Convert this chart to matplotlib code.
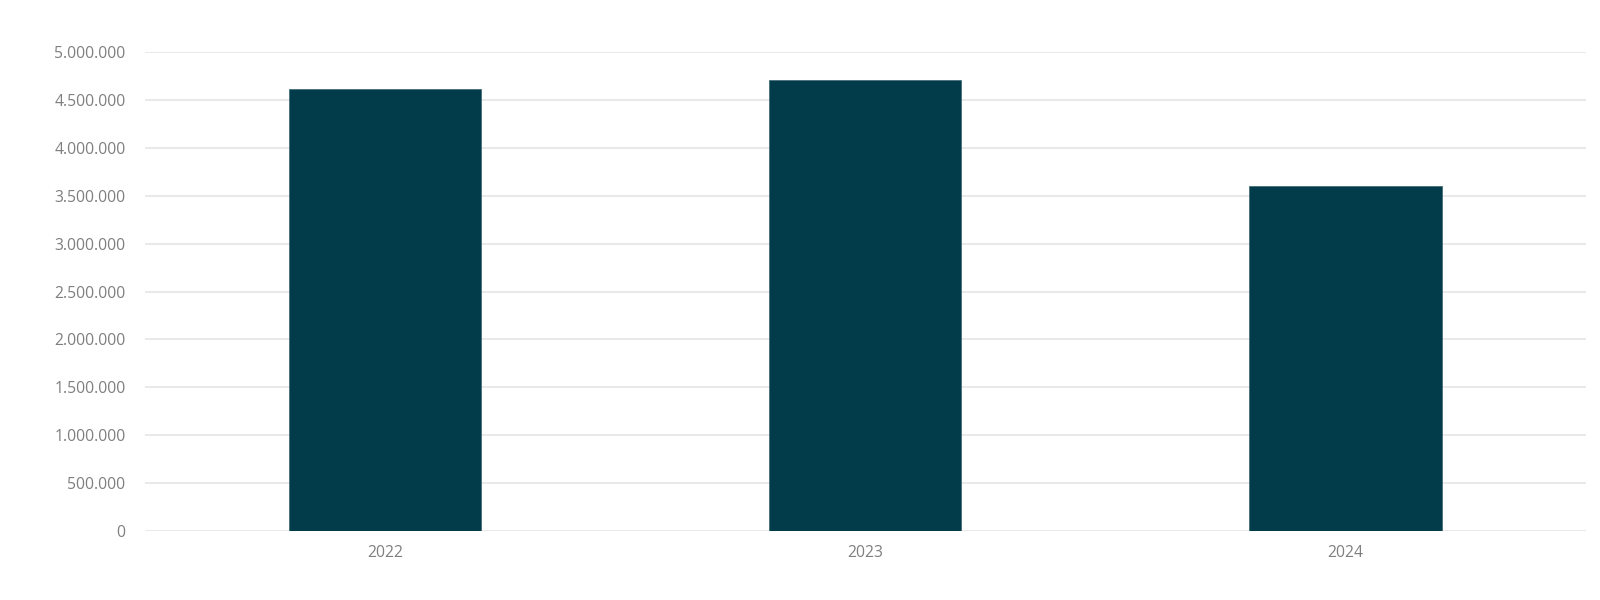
import matplotlib.pyplot as plt
from matplotlib.ticker import FuncFormatter

years = ['2022', '2023', '2024']
values = [4613000, 4707000, 3607000]
y_ticks = list(range(0, 5000001, 500000))

bar_color = '#023c4a'
grid_color = '#e3e3e3'
text_color = '#7f7f7f'

plt.rcParams['font.family'] = ['Open Sans', 'DejaVu Sans']

fig = plt.figure(figsize=(16, 6), dpi=100)
ax = fig.add_axes([0.0906, 0.115, 0.9004, 0.798])

x = range(len(years))
ax.bar(x, values, width=0.4, color=bar_color, edgecolor='#3a6470', linewidth=0.5, zorder=3)

ax.set_xlim(-0.5, len(years) - 0.5)
ax.set_ylim(0, 5000000)
ax.set_xticks(list(x))
ax.set_xticklabels(years)
ax.set_yticks(y_ticks)
ax.yaxis.set_major_formatter(FuncFormatter(lambda v, p: f'{int(v):,}'.replace(',', '.')))

ax.grid(axis='y', color=grid_color, linewidth=1.1, zorder=0)
for s in ax.spines.values():
    s.set_visible(False)
ax.tick_params(axis='both', length=0, labelsize=11.3, labelcolor=text_color)
ax.tick_params(axis='y', pad=14)
ax.tick_params(axis='x', pad=10)

plt.savefig('out.png', dpi=100)
